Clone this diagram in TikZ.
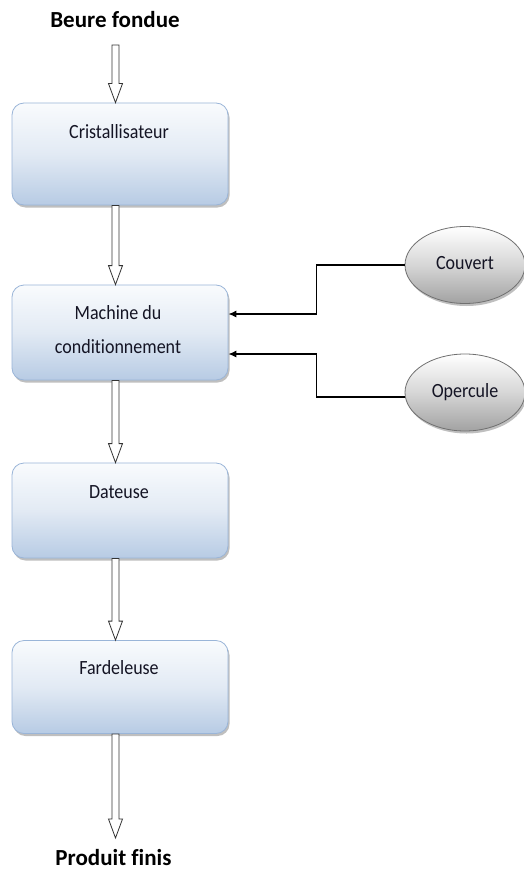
\documentclass[tikz,border=0pt]{standalone}
\usepackage{fontspec}
\setmainfont{Carlito}[Ligatures={NoCommon}]
\usetikzlibrary{shapes.geometric,shadows,calc,arrows.meta}
\definecolor{boxtop}{HTML}{F9FBFD}
\definecolor{boxmid}{HTML}{E2EAF4}
\definecolor{boxbot}{HTML}{B7CBE4}
\definecolor{boxline}{HTML}{9AB5D8}
\definecolor{elbot}{HTML}{A2A2A2}
\definecolor{elmid}{HTML}{D6D6D6}
\definecolor{elline}{HTML}{707070}
\definecolor{txt}{HTML}{141424}
\newcommand{\tx}[1]{\scalebox{1}[1.12]{#1}}
\newcommand{\harrow}[2]{%
  \draw[hollow] let \p1=(#1), \p2=(#2) in
    (\x1-3.5pt,\y1) -- (\x1-3.5pt,\y2+19pt) -- (\x1-7pt,\y2+19pt) -- (\x2,\y2)
    -- (\x1+7pt,\y2+19pt) -- (\x1+3.5pt,\y2+19pt) -- (\x1+3.5pt,\y1) -- cycle;}
\begin{document}
\begin{tikzpicture}[x=1pt,y=-1pt,
  procbox/.style={rectangle, rounded corners=12pt, draw=boxline, line width=0.8pt,
    top color=boxtop, bottom color=boxbot, middle color=boxmid,
    minimum width=216pt, inner sep=0pt,
    drop shadow={shadow xshift=1.5pt, shadow yshift=-2.5pt, fill=black, opacity=0.25}},
  inel/.style={ellipse, draw=elline, line width=0.8pt,
    top color=white, bottom color=elbot, middle color=elmid,
    minimum width=120pt, minimum height=77pt, inner sep=0pt,
    font=\fontsize{18}{22}\selectfont, text=txt,
    drop shadow={shadow xshift=1.5pt, shadow yshift=-2.5pt, fill=black, opacity=0.25}},
  boxtext/.style={font=\fontsize{18}{22}\selectfont, text=txt, inner sep=0pt},
  title/.style={font=\bfseries\fontsize{23}{28}\selectfont, text=black, inner sep=0pt},
  hollow/.style={draw=black!80, fill=white, line width=0.8pt, line join=miter},
  conn/.style={draw=black, line width=1.2pt, -{Latex[length=8pt,width=7pt]}}
]
\useasboundingbox (0,0) rectangle (523,872);
\fill[white] (0,0) rectangle (523,872);

\coordinate (axis) at (115.5,0);

% titles
\node[title] (tin) at (115,20) {Beure fondue};
\node[title] (tout) at (113.5,858) {Produit finis};
\coordinate (top1) at (115.5,45);
\coordinate (bot1) at (115.5,838);

% process boxes
\node[procbox, minimum height=102pt] (b1) at (120,154) {};
\node[procbox, minimum height=95pt] (b2) at (120,332.5) {};
\node[procbox, minimum height=95pt] (b3) at (120,510.5) {};
\node[procbox, minimum height=93pt] (b4) at (120,687) {};

\node[boxtext] (t1) at (119,132) {\tx{Cristallisateur}};
\node[boxtext] (t2a) at (118,313) {\tx{Machine du}};
\node[boxtext] (t2b) at (118,347) {\tx{conditionnement}};
\node[boxtext] (t3) at (119,492) {\tx{Dateuse}};
\node[boxtext] (t4) at (119,668) {\tx{Fardeleuse}};

% inputs
\node[inel] (c1) at (465,265) {\raisebox{5pt}{\tx{Couvert}}};
\node[inel] (c2) at (465,392.5) {\raisebox{5pt}{\tx{Opercule}}};

% hollow flow arrows
\harrow{top1}{b1.north -| axis}
\harrow{b1.south -| axis}{b2.north -| axis}
\harrow{b2.south -| axis}{b3.north -| axis}
\harrow{b3.south -| axis}{b4.north -| axis}
\harrow{b4.south -| axis}{bot1}

% connectors
\coordinate (in1) at ($(b2.east)+(0,-18.5)$);
\coordinate (in2) at ($(b2.east)+(0,21.5)$);
\coordinate (out2) at ($(c2.west)+(0.5,4.5)$);
\draw[conn] (c1.west) -- ++(-88,0) |- (in1);
\draw[conn] (out2) -- ++(-88.5,0) |- (in2);
\end{tikzpicture}
\end{document}
